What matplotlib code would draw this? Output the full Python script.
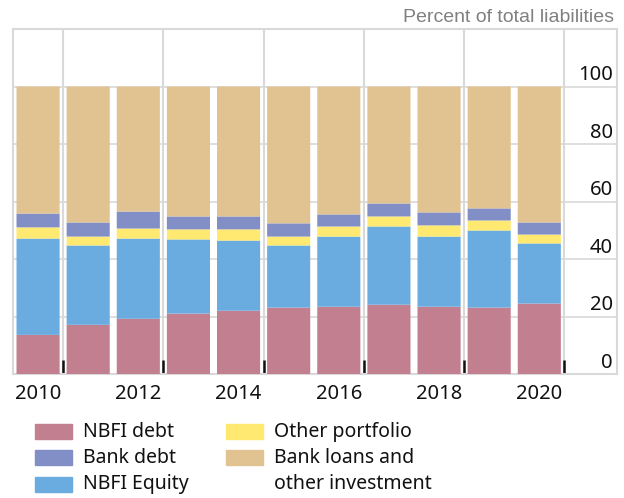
import numpy as np
import matplotlib
matplotlib.use("Agg")
import matplotlib.pyplot as plt
from matplotlib.patches import Rectangle

# data (percent of total liabilities)
years = np.arange(2010, 2021)
nbfi_debt = [13.6, 17.1, 19.2, 21.0, 22.0, 23.1, 23.4, 24.1, 23.4, 23.1, 24.5]
nbfi_equity = [33.5, 27.6, 27.9, 25.8, 24.4, 21.6, 24.4, 27.2, 24.4, 26.8, 20.9]
other_portfolio = [3.9, 3.1, 3.5, 3.5, 3.9, 3.1, 3.5, 3.5, 3.9, 3.5, 3.1]
bank_debt = [4.8, 4.9, 5.9, 4.5, 4.5, 4.6, 4.2, 4.5, 4.5, 4.2, 4.2]
bank_loans = [100 - a - b - c - d for a, b, c, d in
              zip(nbfi_debt, nbfi_equity, other_portfolio, bank_debt)]

series = [nbfi_debt, nbfi_equity, other_portfolio, bank_debt, bank_loans]
names = ["NBFI debt", "NBFI Equity", "Other portfolio", "Bank debt",
         "Bank loans and\nother investment"]
colors = ["#C27F8F", "#6AACE0", "#FFE970", "#818FC6", "#E1C291"]

y_ticks = [0, 20, 40, 60, 80, 100]
x_labels = [2010, 2012, 2014, 2016, 2018, 2020]
x_seps = [2010.5, 2012.5, 2014.5, 2016.5, 2018.5, 2020.5]

W, H = 624, 498
fig = plt.figure(figsize=(W / 100, H / 100), dpi=100)
ax = fig.add_axes([13 / W, (H - 374) / H, (617 - 13) / W, (374 - 29) / H])

grid_c = "#D9D9D9"
bottom = np.zeros(len(years))
for vals, col in zip(series, colors):
    ax.bar(years, vals, width=0.86, bottom=bottom, color=col, zorder=3,
           snap=False)
    bottom += np.array(vals)

ax.set_xlim(2009.5, 2021.55)
ax.set_ylim(0, 120)

for v in y_ticks:
    ax.axhline(v, color=grid_c, lw=1.2, zorder=1)
    ax.annotate(str(v), xy=(1, v), xycoords=ax.get_yaxis_transform(),
                xytext=(-3, 4.5), textcoords="offset points",
                ha="right", va="baseline", fontsize=14.5, family="Noto Sans",
                color="#111111")
for s in x_seps:
    ax.axvline(s, color=grid_c, lw=1.5, zorder=1)

ax.set_yticks([])
ax.set_xticks(x_seps)
ax.set_xticklabels([])
ax.tick_params(axis="x", which="major", direction="in", length=10,
               width=1.8, color="#111111")
ax.set_xticks(x_labels, minor=True)
ax.set_xticklabels([str(x) for x in x_labels], minor=True,
                   fontsize=14.5, family="Noto Sans", color="#111111")
ax.tick_params(axis="x", which="minor", length=0, pad=7)

for sp in ax.spines.values():
    sp.set_color(grid_c)
    sp.set_linewidth(1.5)

fig.text(614 / W, 1 - 18 / H, "Percent of total liabilities", ha="right",
         va="center", fontsize=14, family="Liberation Sans", color="#808080")

# legend drawn by hand: two columns, last label runs over two lines
col_x = [35, 226]
row_y = [431.5, 457.5, 484]
order = [0, 3, 1, 2, 4]  # NBFI debt, Bank debt, NBFI Equity, Other portfolio, Bank loans
slots = [(0, 0), (0, 1), (0, 2), (1, 0), (1, 1)]
for idx, (c, r) in zip(order, slots):
    x0, yc = col_x[c], row_y[r]
    fig.add_artist(Rectangle((x0 / W, 1 - (yc + 7.5) / H), 37 / W, 15 / H,
                             transform=fig.transFigure, color=colors[idx]))
    lines = names[idx].split("\n")
    for k, line in enumerate(lines):
        fig.text((x0 + 48) / W, 1 - (yc + 26.5 * k) / H, line, ha="left",
                 va="center", fontsize=14, family="Noto Sans", color="#111111")

fig.savefig("out.png", dpi=100)
